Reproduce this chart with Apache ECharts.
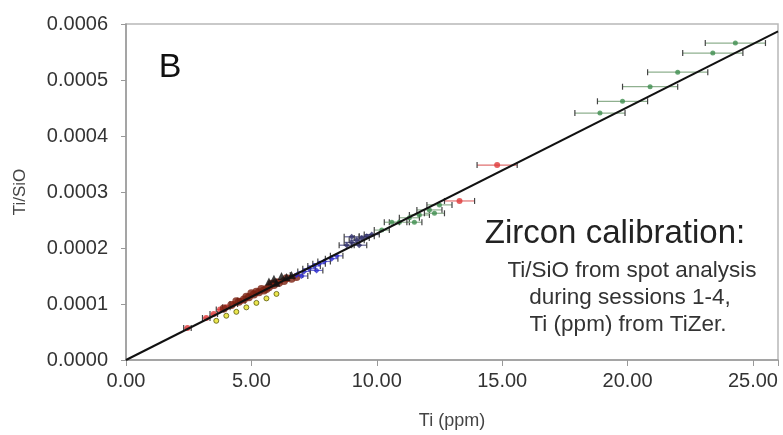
<!DOCTYPE html>
<html>
<head>
<meta charset="utf-8">
<script src="https://cdn.jsdelivr.net/npm/echarts@6/dist/echarts.min.js"></script>
<style>
  html, body { margin: 0; padding: 0; background: #fff; }
  #chart { width: 783px; height: 435px; }
</style>
</head>
<body>
<div id="chart"></div>
<script>
// Ti (ppm) vs Ti/SiO
const greenX = [24.3, 23.4, 22.0, 20.9, 19.8, 18.9, 12.5, 12.1, 11.7, 11.3, 10.9, 10.6, 11.5, 12.3, 10.2]
const greenY = [0.000566, 0.000548, 0.000514, 0.000488, 0.000462, 0.000441, 0.000277, 0.000268, 0.000259, 0.000254, 0.000246, 0.000246, 0.000246, 0.000262, 0.000232]
const greenErr = [1.2, 1.2, 1.2, 1.1, 1.0, 1.0, 0.5, 0.5, 0.4, 0.4, 0.4, 0.3, 0.3, 0.4, 0.3]

const redX = [14.8, 13.3, 2.45, 3.2, 3.5, 3.75, 4.0, 4.3, 4.6]
const redY = [0.000348, 0.000284, 0.000057, 0.000075, 0.000082, 0.000090, 0.000094, 0.000100, 0.000106]
const redErr = [0.8, 0.6, 0.15, 0.15, 0.15, 0.15, 0.15, 0.15, 0.15]

const brownX = [3.9, 4.2, 4.4, 4.5, 4.7, 4.8, 4.9, 5.0, 5.1, 5.2, 5.3, 5.4, 5.5, 5.6, 5.7, 5.8, 5.9, 6.0, 6.1, 6.3, 6.4, 6.6, 6.8]
const brownY = [0.000092, 0.000098, 0.000105, 0.000104, 0.000108, 0.000113, 0.000112, 0.000119, 0.000117, 0.000122, 0.000121, 0.000127, 0.000124, 0.000127, 0.000130, 0.000136, 0.000134, 0.000139, 0.000138, 0.000141, 0.000146, 0.000145, 0.000148]

const yellowX = [3.6, 4.0, 4.4, 4.8, 5.2, 5.6, 6.0]
const yellowY = [0.000070, 0.000079, 0.000086, 0.000094, 0.000102, 0.000110, 0.000118]

const blackX = [5.7, 5.9, 6.0, 6.2, 6.4, 6.6]
const blackY = [0.000140, 0.000145, 0.000138, 0.000150, 0.000148, 0.000152]

const blueX = [6.8, 7.0, 7.1, 7.3, 7.5, 7.6, 7.7, 7.9, 8.2, 8.4]
const blueY = [0.000152, 0.000150, 0.000158, 0.000163, 0.000168, 0.000160, 0.000172, 0.000176, 0.000181, 0.000186]
const blueErr = [0.25, 0.25, 0.25, 0.25, 0.25, 0.25, 0.25, 0.25, 0.25, 0.25]

const navyX = [8.8, 9.0, 9.0, 9.2, 9.3, 9.4, 9.6, 9.8]
const navyY = [0.000205, 0.000210, 0.000220, 0.000214, 0.000205, 0.000218, 0.000221, 0.000224]
const navyErr = [0.3, 0.3, 0.3, 0.3, 0.3, 0.3, 0.3, 0.3]

const fitX = [0, 26]
const fitY = [0, 0.000587]

const xTicks = ['0.00', '5.00', '10.00', '15.00', '20.00', '25.00']
const yTicks = ['0.0000', '0.0001', '0.0002', '0.0003', '0.0004', '0.0005', '0.0006']

const font = 'Liberation Sans, Arial, sans-serif'
const zip = (xs, ys) => xs.map((x, i) => [x, ys[i]])
const bars = (xs, ys, es) => xs.map((x, i) => [x, ys[i], x - es[i], x + es[i]])

const errorBars = (name, data, color) => ({
  type: 'custom',
  name: name,
  data: data,
  z: 3,
  renderItem: (params, api) => {
    const y = api.value(1)
    const lo = api.coord([api.value(2), y])
    const hi = api.coord([api.value(3), y])
    const h = 3
    return {
      type: 'group',
      children: [
        { type: 'line', shape: { x1: lo[0], y1: lo[1], x2: hi[0], y2: hi[1] }, style: { stroke: color, lineWidth: 1.2 } },
        { type: 'line', shape: { x1: lo[0], y1: lo[1] - h, x2: lo[0], y2: lo[1] + h }, style: { stroke: '#444', lineWidth: 1.2 } },
        { type: 'line', shape: { x1: hi[0], y1: hi[1] - h, x2: hi[0], y2: hi[1] + h }, style: { stroke: '#444', lineWidth: 1.2 } },
      ],
    }
  },
})

const dots = (name, data, color, symbol, size, border) => ({
  type: 'scatter',
  name: name,
  data: data,
  symbol: symbol,
  symbolSize: size,
  z: 4,
  itemStyle: { color: color, borderColor: border || color, borderWidth: border ? 1 : 0 },
})

const label = (text, x, y, size, fill) => ({
  type: 'text',
  x: x,
  y: y,
  style: { text: text, fontSize: size, fill: fill, align: 'center', verticalAlign: 'middle', fontFamily: font },
})

const chart = echarts.init(document.getElementById('chart'))
const option = {
  backgroundColor: '#fff',
  animation: false,
  textStyle: { fontFamily: font },
  grid: {
    left: 126,
    right: 5,
    top: 24,
    bottom: 75,
    show: true,
    borderColor: '#b8b8b8',
    borderWidth: 1.5,
  },
  xAxis: {
    type: 'value',
    min: 0,
    max: 26,
    interval: 5,
    name: 'Ti (ppm)',
    nameLocation: 'middle',
    nameGap: 52,
    nameTextStyle: { fontSize: 18, color: '#444' },
    axisLine: { lineStyle: { color: '#999', width: 1.5 } },
    axisTick: { show: true, length: 6, lineStyle: { color: '#999' } },
    axisLabel: {
      fontSize: 20,
      color: '#333',
      margin: 11,
      formatter: (v) => xTicks[v / 5] || '',
    },
    splitLine: { show: false },
  },
  yAxis: {
    type: 'value',
    min: 0,
    max: 0.0006,
    interval: 0.0001,
    name: 'Ti/SiO',
    nameLocation: 'middle',
    nameGap: 97,
    nameTextStyle: { fontSize: 17, color: '#444' },
    axisLine: { show: true, lineStyle: { color: '#999', width: 1.5 } },
    axisTick: { show: true, length: 5, lineStyle: { color: '#999' } },
    axisLabel: {
      fontSize: 20,
      color: '#333',
      margin: 18,
      formatter: (v) => yTicks[Math.round(v / 0.0001)] || '',
    },
    splitLine: { show: false },
  },
  graphic: [
    label('B', 170, 68, 34, '#111'),
    label('Zircon calibration:', 615, 234, 33, '#222'),
    label('Ti/SiO from spot analysis', 632, 271, 22.5, '#333'),
    label('during sessions 1-4,', 630, 298, 22.5, '#333'),
    label('Ti (ppm) from TiZer.', 628, 325, 22.5, '#333'),
  ],
  series: [
    {
      type: 'line',
      name: 'fit',
      data: zip(fitX, fitY),
      symbol: 'none',
      z: 5,
      lineStyle: { color: '#111', width: 2 },
    },
    errorBars('green err', bars(greenX, greenY, greenErr), '#8fb08f'),
    errorBars('red err', bars(redX, redY, redErr), '#e07070'),
    errorBars('blue err', bars(blueX, blueY, blueErr), '#7070d0'),
    errorBars('navy err', bars(navyX, navyY, navyErr), '#606090'),
    dots('green', zip(greenX, greenY), '#3f8f4f', 'circle', 5),
    dots('red', zip(redX, redY), '#e03a3a', 'circle', 6),
    dots('brown', zip(brownX, brownY), '#7a2010', 'circle', 8),
    dots('yellow', zip(yellowX, yellowY), '#e6e020', 'circle', 5, '#5a5a10'),
    dots('blue', zip(blueX, blueY), '#2a2ad0', 'diamond', 6),
    dots('navy', zip(navyX, navyY), '#2a2a66', 'diamond', 6),
    dots('black', zip(blackX, blackY), '#111', 'triangle', 8),
  ],
}
chart.setOption(option)
</script>
</body>
</html>
